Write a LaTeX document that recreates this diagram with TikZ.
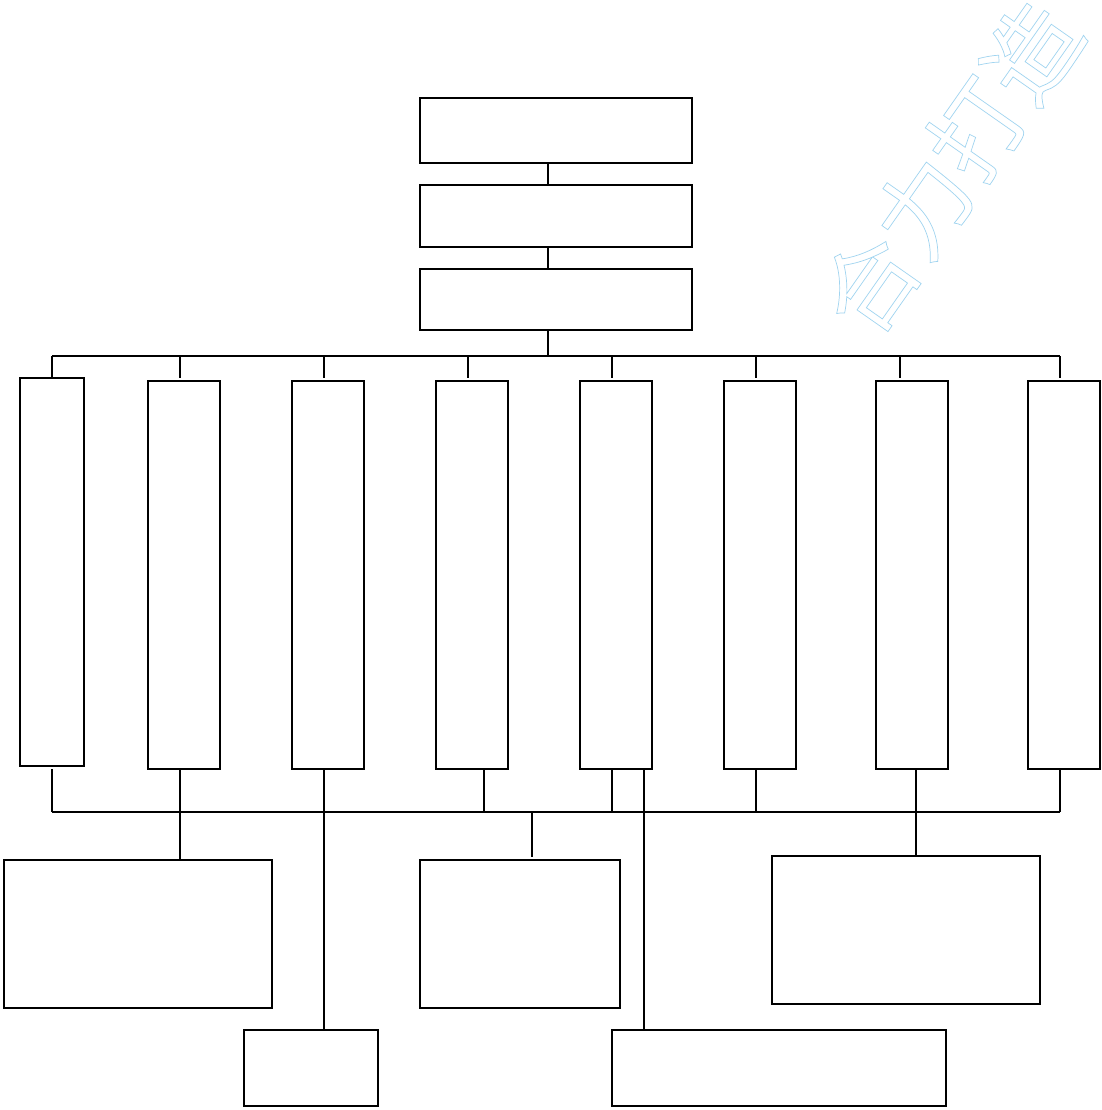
\documentclass[tikz,border=0pt]{standalone}
\usepackage{fontspec}
\newfontfamily\cjk{Noto Sans CJK SC}
\definecolor{wm}{RGB}{160,212,240}
\tikzset{
  box/.style={draw, line width=1.9pt, fill=white, inner sep=0pt, outer sep=0pt, anchor=center},
  conn/.style={line width=1.9pt},
  wmark/.style={text=wm, font=\cjk\fontsize{94}{94}\selectfont, inner sep=0pt}
}
\begin{document}
\begin{tikzpicture}[x=1pt,y=-1pt]
\useasboundingbox (0,0) rectangle (1101,1110);
\fill[white] (0,0) rectangle (1101,1110);
% watermark
\node[wmark, rotate=55] (wm1) at (950,168) {\special{pdf:literal direct 1 Tr 0.7 w}合力打造\special{pdf:literal direct 0 Tr}};
% top chain
\node[box, minimum width=272pt, minimum height=65pt] (t1) at (556,130.5) {};
\node[box, minimum width=272pt, minimum height=62pt] (t2) at (556,216) {};
\node[box, minimum width=272pt, minimum height=61pt] (t3) at (556,299.5) {};
\draw[conn] ([xshift=-8pt]t1.south) -- ([xshift=-8pt]t2.north);
\draw[conn] ([xshift=-8pt]t2.south) -- ([xshift=-8pt]t3.north);
\coordinate (bus) at (548,356);
\draw[conn] ([xshift=-8pt]t3.south) -- (bus);
% tall boxes
\node[box, minimum width=64pt, minimum height=388pt] (b1) at (52,572) {};
\node[box, minimum width=72pt, minimum height=388pt] (b2) at (184,575) {};
\node[box, minimum width=72pt, minimum height=388pt] (b3) at (328,575) {};
\node[box, minimum width=72pt, minimum height=388pt] (b4) at (472,575) {};
\node[box, minimum width=72pt, minimum height=388pt] (b5) at (616,575) {};
\node[box, minimum width=72pt, minimum height=388pt] (b6) at (760,575) {};
\node[box, minimum width=72pt, minimum height=388pt] (b7) at (912,575) {};
\node[box, minimum width=72pt, minimum height=388pt] (b8) at (1064,575) {};
% upper bus
\coordinate (u1) at (52,356);
\coordinate (u2) at (180,356);
\coordinate (u3) at (324,356);
\coordinate (u4) at (468,356);
\coordinate (u5) at (612,356);
\coordinate (u6) at (756,356);
\coordinate (u7) at (900,356);
\coordinate (u8) at (1060,356);
\draw[conn] (u1) -- (u8);
\draw[conn] (u1) -- (b1.north);
\draw[conn] (u2) -- ([xshift=-4pt,yshift=3pt]b2.north);
\draw[conn] (u3) -- ([xshift=-4pt,yshift=3pt]b3.north);
\draw[conn] (u4) -- ([xshift=-4pt,yshift=3pt]b4.north);
\draw[conn] (u5) -- ([xshift=-4pt,yshift=3pt]b5.north);
\draw[conn] (u6) -- ([xshift=-4pt,yshift=3pt]b6.north);
\draw[conn] (u7) -- ([xshift=-12pt,yshift=3pt]b7.north);
\draw[conn] (u8) -- ([xshift=-4pt,yshift=3pt]b8.north);
% bottom boxes
\node[box, minimum width=268pt, minimum height=148pt] (bl) at (138,934) {};
\node[box, minimum width=200pt, minimum height=148pt] (bm) at (520,934) {};
\node[box, minimum width=268pt, minimum height=148pt] (br) at (906,930) {};
\node[box, minimum width=134pt, minimum height=76pt] (sm) at (311,1068) {};
\node[box, minimum width=334pt, minimum height=76pt] (wd) at (779,1068) {};
% lower bus
\coordinate (l1) at (52,812);
\coordinate (l4) at (484,812);
\coordinate (lm) at (532,812);
\coordinate (l5) at (612,812);
\coordinate (l6) at (756,812);
\coordinate (l8) at (1060,812);
\draw[conn] (l1) -- (l8);
\draw[conn] ([yshift=-3pt]b1.south) -- (l1);
\draw[conn] ([xshift=12pt]b4.south) -- (l4);
\draw[conn] ([xshift=-4pt]b5.south) -- (l5);
\draw[conn] ([xshift=-4pt]b6.south) -- (l6);
\draw[conn] ([xshift=-4pt]b8.south) -- (l8);
\draw[conn] (lm) -- ([xshift=12pt,yshift=3pt]bm.north);
\draw[conn] ([xshift=-4pt]b2.south) -- ([xshift=-4pt]b2.south |- bl.north);
\draw[conn] ([xshift=-4pt]b3.south) -- ([xshift=-4pt]b3.south |- sm.north);
\draw[conn] ([xshift=28pt]b5.south) -- ([xshift=28pt]b5.south |- wd.north);
\draw[conn] ([xshift=4pt]b7.south) -- ([xshift=4pt]b7.south |- br.north);
\end{tikzpicture}
\end{document}
